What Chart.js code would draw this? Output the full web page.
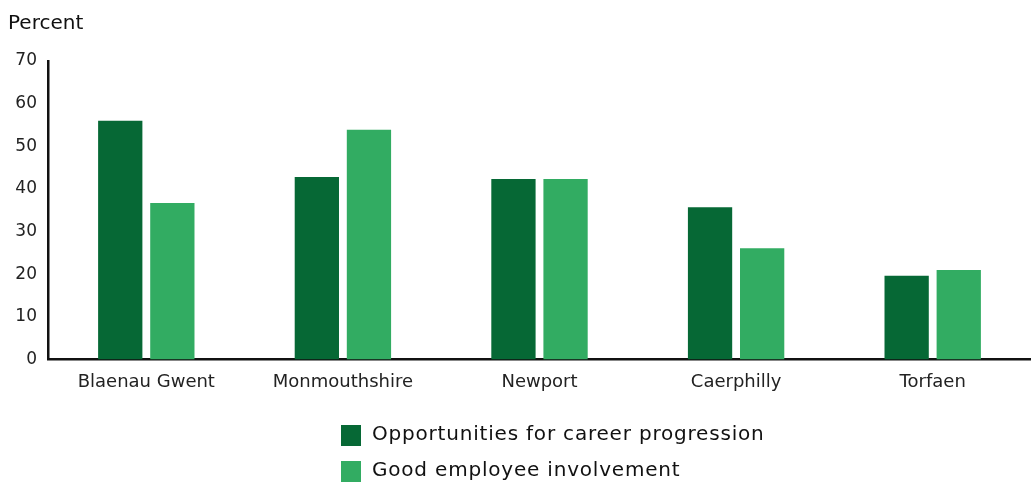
<!DOCTYPE html>
<html lang="en">
<head>
  <meta charset="UTF-8">
  <title>Percent by area</title>
  <script src="https://cdn.jsdelivr.net/npm/chart.js"></script>
  <style>
    html, body {
      margin: 0;
      padding: 0;
      background: #fff;
    }
    #wrap {
      width: 1031px;
      height: 482px;
    }
  </style>
</head>
<body>
  <div id="wrap"><canvas id="grafico"></canvas></div>

  <script>
    // data
    const areas = ['Blaenau Gwent', 'Monmouthshire', 'Newport', 'Caerphilly', 'Torfaen'];
    const careerProgression = [56, 42.8, 42.3, 35.7, 19.6];
    const employeeInvolvement = [36.7, 53.9, 42.3, 26.1, 21];
    const yTicks = [0, 10, 20, 30, 40, 50, 60, 70];

    const fonte = "'DejaVu Sans', 'Noto Sans', sans-serif";

    // legend drawn as a column under the chart
    const legendaColuna = {
      id: 'legendaColuna',
      afterDraw(chart) {
        const ctx = chart.ctx;
        ctx.save();
        ctx.font = '20px ' + fonte;
        ctx.letterSpacing = '0.8px';
        ctx.textBaseline = 'middle';
        chart.data.datasets.forEach((ds, i) => {
          const y = 435 + i * 36;
          ctx.fillStyle = ds.backgroundColor;
          ctx.fillRect(341, y - 10, 20, 21);
          ctx.fillStyle = '#111';
          ctx.fillText(ds.label, 372, y);
        });
        ctx.restore();
      }
    };

    new Chart(document.getElementById('grafico'), {
      type: 'bar',
      data: {
        labels: areas,
        datasets: [
          {
            label: 'Opportunities for career progression',
            data: careerProgression,
            backgroundColor: '#066835',
            categoryPercentage: 0.53,
            barPercentage: 0.85
          },
          {
            label: 'Good employee involvement',
            data: employeeInvolvement,
            backgroundColor: '#32ac62',
            categoryPercentage: 0.53,
            barPercentage: 0.85
          }
        ]
      },
      options: {
        responsive: true,
        maintainAspectRatio: false,
        animation: false,
        layout: { padding: { left: 8, right: 0, top: 0, bottom: 77 } },
        plugins: {
          legend: { display: false },
          tooltip: { enabled: false },
          title: {
            display: true,
            text: 'Percent',
            align: 'start',
            color: '#111',
            font: { family: fonte, size: 20, weight: 'normal' },
            padding: { top: 12, bottom: 25 }
          }
        },
        scales: {
          x: {
            grid: { display: false, drawTicks: false },
            border: { color: '#111', width: 2.5 },
            ticks: {
              color: '#222',
              font: { family: fonte, size: 18 },
              padding: 12
            }
          },
          y: {
            min: 0,
            max: 70,
            afterBuildTicks: axis => {
              axis.ticks = yTicks.map(v => ({ value: v }));
            },
            afterFit: axis => { axis.width = 40; },
            grid: { display: false, drawTicks: false },
            border: { color: '#111', width: 2.5 },
            ticks: {
              color: '#222',
              font: { family: fonte, size: 17 },
              padding: 11
            }
          }
        }
      },
      plugins: [legendaColuna]
    });
  </script>
</body>
</html>
